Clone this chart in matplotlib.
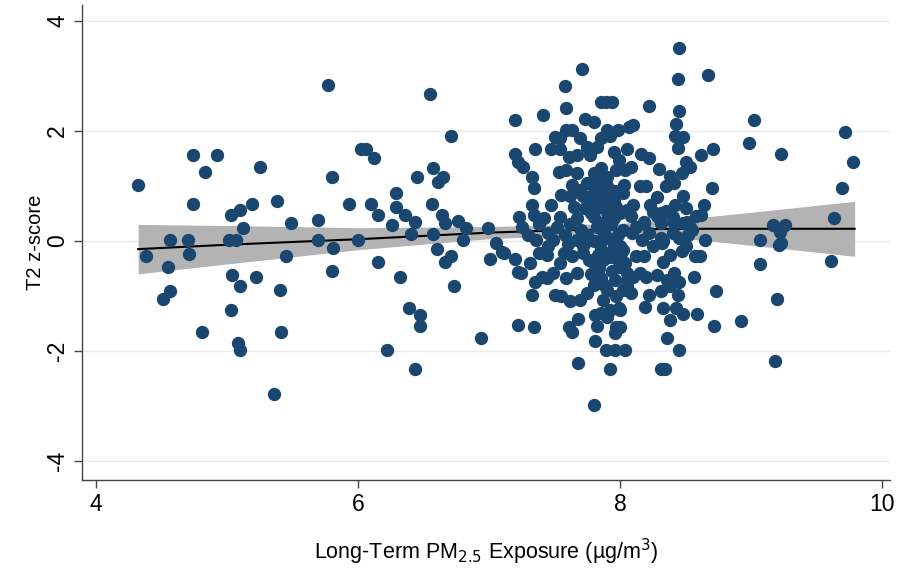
import numpy as np
import matplotlib.pyplot as plt

# scatter points: (PM2.5 exposure, T2 z-score)
left_points = [
    (5.77, 2.84), (4.74, 1.56), (4.92, 1.56), (4.83, 1.26), (5.25, 1.34), (4.32, 1.02),
    (5.80, 1.17), (6.02, 1.67), (4.74, 0.67), (5.03, 0.47), (5.10, 0.57), (5.19, 0.67),
    (5.38, 0.73), (5.49, 0.32), (5.12, 0.23), (5.69, 0.38), (5.93, 0.67), (4.56, 0.02),
    (4.70, 0.02), (5.01, 0.02), (5.07, 0.02), (5.69, 0.02), (6.00, 0.02), (4.38, -0.28),
    (4.71, -0.24), (4.55, -0.47), (5.45, -0.28), (5.81, -0.13), (5.80, -0.54), (5.04, -0.62),
    (5.22, -0.66), (5.10, -0.83), (5.40, -0.89), (4.56, -0.92), (4.51, -1.06), (5.03, -1.25),
    (4.81, -1.66), (5.41, -1.66), (5.08, -1.86), (5.10, -1.99), (5.36, -2.79),
]
middle_points = [
    (6.55, 2.67), (7.20, 2.20), (6.71, 1.91), (6.06, 1.67), (6.12, 1.51), (7.20, 1.58),
    (7.22, 1.43), (6.57, 1.32), (6.65, 1.17), (6.61, 1.07), (6.45, 1.17), (6.29, 0.88),
    (6.10, 0.67), (6.15, 0.47), (6.29, 0.62), (6.36, 0.47), (6.43, 0.34), (6.26, 0.29),
    (6.56, 0.67), (6.64, 0.48), (6.66, 0.32), (6.76, 0.37), (6.82, 0.23), (6.99, 0.23),
    (6.40, 0.12), (6.57, 0.12), (6.80, 0.02), (7.05, -0.04), (7.10, -0.21), (7.01, -0.33),
    (6.60, -0.15), (6.66, -0.39), (6.71, -0.28), (6.15, -0.39), (6.32, -0.66), (6.73, -0.83),
    (7.20, -0.33), (7.22, -0.57), (6.39, -1.22), (6.47, -1.35), (6.47, -1.54), (7.22, -1.53),
    (6.94, -1.77), (6.22, -1.98), (6.43, -2.33),
]
right_points = [
    (9.02, 2.20), (8.98, 1.78), (9.23, 1.58), (9.72, 1.98), (9.78, 1.44), (9.69, 0.96),
    (9.63, 0.42), (9.17, 0.28), (9.26, 0.28), (9.22, 0.17), (9.21, -0.07), (9.23, -0.04),
    (9.07, 0.02), (9.07, -0.42), (9.61, -0.36), (9.20, -1.06), (8.92, -1.45), (9.18, -2.18),
]
cluster_upper = [
    (7.71, 3.12), (7.58, 2.82), (7.85, 2.52), (7.94, 2.52), (7.89, 2.52), (7.59, 2.41),
    (7.41, 2.29), (7.73, 2.21), (7.80, 2.17), (7.59, 2.02), (7.63, 2.02), (7.54, 1.87),
    (7.50, 1.89), (7.90, 2.02), (7.98, 2.02), (8.07, 2.08), (7.69, 1.87), (7.85, 1.87),
    (7.92, 1.90), (7.75, 1.71), (7.82, 1.71), (7.35, 1.67), (7.47, 1.67), (7.54, 1.67),
    (7.61, 1.53), (7.67, 1.56), (7.77, 1.56), (7.95, 1.62), (7.26, 1.35), (7.33, 1.17),
    (7.34, 0.96), (7.53, 1.26), (7.59, 1.29), (7.67, 1.23), (7.99, 1.47), (7.97, 1.29),
    (7.80, 1.23), (7.85, 1.32), (7.90, 1.17), (7.75, 1.05), (7.80, 0.99), (7.85, 1.08),
    (7.90, 0.99), (7.63, 1.02), (7.69, 0.93), (7.62, 0.81), (7.55, 0.84), (7.72, 0.81),
    (7.77, 0.81), (8.02, 0.87), (7.85, 0.84), (7.90, 0.81), (7.95, 0.75), (7.33, 0.65),
    (7.47, 0.65), (7.23, 0.44), (7.34, 0.47), (7.42, 0.41), (7.54, 0.44), (7.65, 0.62),
    (7.73, 0.59), (7.77, 0.65), (7.85, 0.62), (7.90, 0.53), (7.97, 0.62), (8.05, 0.56),
    (7.67, 0.41), (7.80, 0.44), (7.95, 0.41),
    (8.45, 3.51), (8.44, 2.94), (8.67, 3.02), (8.22, 2.45), (8.45, 2.36), (8.10, 2.11),
    (8.43, 2.12), (8.42, 1.90), (8.48, 1.89), (8.44, 1.69), (8.71, 1.67), (8.62, 1.56),
    (8.16, 1.58), (8.05, 1.67), (8.50, 1.44), (8.53, 1.35), (8.38, 1.18), (8.41, 1.05),
    (8.47, 1.23), (8.70, 0.96), (8.64, 0.65), (8.62, 0.47), (8.48, 0.81), (8.42, 0.65),
    (8.08, 1.35), (8.04, 1.29), (8.03, 1.02), (8.15, 0.99), (8.20, 0.99), (8.10, 0.65),
    (8.23, 0.65), (8.31, 0.50), (8.25, 0.53), (8.18, 0.35), (8.31, 0.35), (8.51, 0.35),
    (8.40, 0.44),
]
cluster_core = [
    (7.25, 0.25), (7.30, 0.10), (7.38, 0.30), (7.45, 0.15), (7.52, 0.25), (7.58, 0.10),
    (7.62, 0.30), (7.70, 0.20), (7.75, 0.10), (7.82, 0.25), (7.88, 0.15), (7.93, 0.30),
    (7.98, 0.10), (7.45, -0.10), (7.60, -0.05), (7.72, -0.10), (7.85, -0.15), (7.95, -0.08),
    (7.80, 0.00), (7.90, 0.05), (7.78, 0.50), (7.82, 0.70), (7.86, 0.90), (7.80, 1.10),
    (7.88, 0.35), (7.92, -0.30), (7.84, -0.50), (7.78, -0.60), (7.88, -0.80), (7.94, -0.55),
    (7.98, -0.35), (7.83, -0.25), (7.76, -0.35), (7.91, 0.60), (7.87, 1.15), (7.96, 0.90),
    (8.00, 0.50), (8.02, 0.20), (8.00, -0.10), (8.04, -0.40), (8.08, 0.45), (8.12, 0.25),
    (8.22, 0.15), (8.28, 0.45), (8.35, 0.55), (8.40, 0.15), (8.45, 0.05), (8.25, -0.10),
    (8.38, -0.25), (8.50, 0.60), (8.55, 0.20), (8.58, 0.45), (8.28, 0.80), (8.35, 1.00),
    (8.30, 1.30), (8.22, 1.50),
]
cluster_lower = [
    (7.80, -2.98), (7.68, -2.22), (7.92, -2.33), (7.81, -1.83), (7.89, -1.98), (7.96, -1.98),
    (7.34, -1.57), (7.61, -1.56), (7.63, -1.65), (7.68, -1.42), (7.82, -1.55), (7.81, -1.35),
    (7.90, -1.38), (7.99, -1.22), (7.97, -1.56), (7.96, -1.68), (7.11, -0.22), (7.24, -0.58),
    (7.33, -0.98), (7.35, -0.74), (7.31, -0.41), (7.38, -0.22), (7.44, -0.25), (7.36, 0.02),
    (7.49, 0.02), (7.57, -0.22), (7.63, -0.28), (7.54, -0.41), (7.49, -0.59), (7.59, -0.68),
    (7.67, -0.59), (7.72, -0.22), (7.77, 0.02), (7.50, -0.98), (7.55, -1.01), (7.62, -1.10),
    (7.69, -1.07), (7.75, -0.95), (7.80, -0.80), (7.85, -0.68), (7.87, -1.07), (7.90, -0.89),
    (7.96, -0.71), (7.97, -1.01), (8.05, -0.83), (7.85, -1.31), (7.92, -1.25), (7.80, -0.41),
    (7.87, -0.35), (7.92, -0.22), (8.00, -0.47), (8.05, -0.59), (7.85, 0.02), (7.95, 0.02),
    (7.67, 0.02), (7.40, -0.65), (7.44, -0.68),
    (8.73, -0.92), (8.72, -1.55), (8.59, -1.33), (8.48, -1.33), (8.43, -1.22), (8.38, -1.44),
    (8.33, -1.22), (8.19, -1.21), (8.36, -1.77), (8.45, -1.98), (8.04, -1.98), (8.31, -2.33),
    (8.34, -2.33), (8.65, 0.02), (8.57, -0.28), (8.61, -0.28), (8.47, -0.19), (8.50, -0.10),
    (8.56, -0.65), (8.41, -0.59), (8.45, -0.74), (8.44, -0.98), (8.36, -0.71), (8.38, -0.83),
    (8.31, -0.92), (8.33, -0.38), (8.33, -0.01), (8.28, -0.62), (8.22, -0.98), (8.18, -0.28),
    (8.12, -0.28), (8.20, -0.65), (8.15, -0.59), (8.10, -0.65), (8.05, -0.71), (8.08, -0.95),
    (8.02, -0.89), (8.00, -1.25), (8.00, -1.56), (8.17, 0.02), (8.09, 0.14), (8.02, -0.16),
    (8.01, -0.22), (8.00, -0.31), (8.48, 0.32), (8.53, 0.26), (8.41, 0.32), (8.31, 0.32),
    (8.18, 0.32), (8.52, 0.11), (8.31, 0.05), (8.32, -0.04),
]

# fitted curve and its confidence band
fit_x = [4.32, 5.0, 6.0, 7.0, 7.5, 8.0, 8.5, 9.0, 9.79]
fit_y = [-0.15, -0.07, 0.03, 0.15, 0.19, 0.21, 0.22, 0.22, 0.22]
ci_low = [-0.60, -0.42, -0.16, 0.04, 0.09, 0.10, 0.04, -0.08, -0.28]
ci_high = [0.30, 0.28, 0.24, 0.26, 0.29, 0.32, 0.40, 0.52, 0.72]

x_ticks = [4, 6, 8, 10]
y_ticks = [-4, -2, 0, 2, 4]

pts = np.array(left_points + middle_points + right_points
               + cluster_upper + cluster_core + cluster_lower)

plt.rcParams["font.family"] = ["Liberation Sans", "DejaVu Sans"]
plt.rcParams["axes.unicode_minus"] = False

fig = plt.figure(figsize=(8.99, 5.72), dpi=100)
ax = fig.add_axes([0.091, 0.161, 0.899, 0.83])

for yt in y_ticks:
    ax.axhline(yt, color="#ebebeb", lw=1, zorder=0)

ax.fill_between(fit_x, ci_low, ci_high, color="#b3b3b3", lw=0, zorder=1)
ax.plot(fit_x, fit_y, color="black", lw=1.5, zorder=2)
ax.scatter(pts[:, 0], pts[:, 1], s=92, color="#1a476f", linewidths=0, zorder=3)

ax.set_xlim(3.89, 10.06)
ax.set_ylim(-4.35, 4.29)
ax.set_xticks(x_ticks)
ax.set_yticks(y_ticks)
ax.tick_params(direction="out", length=6, width=1, color="#444444", labelsize=16.5)
ax.tick_params(axis="y", pad=3)
for lab in ax.get_yticklabels():
    lab.set_rotation(90)
    lab.set_va("center")

for side in ["top", "right"]:
    ax.spines[side].set_visible(False)
for side in ["left", "bottom"]:
    ax.spines[side].set_color("#444444")
    ax.spines[side].set_linewidth(1)

ax.set_xlabel("Long-Term PM$_{2.5}$ Exposure (µg/m$^3$)", fontsize=15.5, labelpad=15)
ax.set_ylabel("T2 z-score", fontsize=14.5, labelpad=1)

fig.savefig("out.png", dpi=100)
